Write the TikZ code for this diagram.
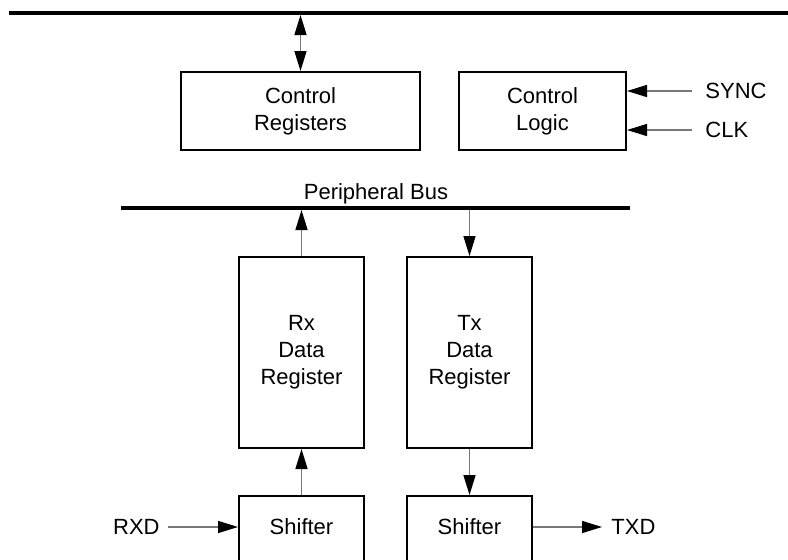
\documentclass[tikz,border=0pt]{standalone}
\usepackage{fontspec}
\setmainfont{Liberation Sans}
\usetikzlibrary{arrows.meta}
\definecolor{conn}{RGB}{120,120,120}
\begin{document}
\begin{tikzpicture}[x=0.5pt,y=-0.5pt,
  txt/.style={font=\fontsize{11pt}{13.5pt}\selectfont},
  box/.style={draw=black,line width=1pt,inner sep=0pt,align=center,txt},
  lbl/.style={inner sep=0pt,txt},
  bus/.style={line width=2pt,black},
  arr/.style={draw=conn,line width=0.7pt,-{Triangle[length=10pt,width=6pt,color=black]}},
  darr/.style={draw=conn,line width=0.7pt,{Triangle[length=10pt,width=6pt,color=black]}-{Triangle[length=10pt,width=6pt,color=black]}}
]
\useasboundingbox (0,0) rectangle (788,559);
\clip (0,0) rectangle (788,559);
% buses
\coordinate (tb1) at (9,13);
\coordinate (tb2) at (800,13);
\coordinate (tbe) at (0,15);
\coordinate (pb1) at (121,208);
\coordinate (pb2) at (630,208);
\coordinate (pbe) at (0,210);
\draw[bus] (tb1) -- (tb2);
\draw[bus] (pb1) -- (pb2);
\node[lbl,anchor=base] (pbl) at (376,199) {Peripheral Bus};
% boxes
\node[box,minimum width=119.5pt,minimum height=39pt] (creg) at (300.5,111) {Control\\Registers};
\node[box,minimum width=83.5pt,minimum height=39pt] (clog) at (542.5,111) {Control\\Logic};
\node[box,minimum width=62.5pt,minimum height=95.5pt] (rx) at (301.5,352.5) {Rx\\Data\\Register};
\node[box,minimum width=62.5pt,minimum height=95.5pt] (tx) at (469.5,352.5) {Tx\\Data\\Register};
\node[box,minimum width=62.5pt,minimum height=40pt,anchor=north] (shl) at (301.5,495) {};
\node[box,minimum width=62.5pt,minimum height=40pt,anchor=north] (shr) at (469.5,495) {};
\node[lbl] (shlt) at (301.5,527) {Shifter};
\node[lbl] (shrt) at (469.5,527) {Shifter};
% labels
\node[lbl,anchor=west] (sync) at (705,91) {SYNC};
\node[lbl,anchor=west] (clk) at (705,130) {CLK};
\node[lbl,anchor=east] (rxd) at (160,527) {RXD};
\node[lbl,anchor=west] (txd) at (611,527) {TXD};
% connectors
\draw[darr] (creg.north |- tbe) -- (creg.north);
\draw[arr] ([xshift=-6.5pt]sync.west) -- (clog.east |- sync);
\draw[arr] ([xshift=-6.5pt]clk.west) -- (clog.east |- clk);
\draw[arr] (rx.north) -- (rx.north |- pbe);
\draw[arr] (tx.north |- pbe) -- (tx.north);
\draw[arr] (shl.north) -- (rx.south);
\draw[arr] (tx.south) -- (shr.north);
\draw[arr] ([xshift=4pt]rxd.east) -- (shl.west |- rxd);
\draw[arr] (shr.east |- txd) -- ([xshift=-4.5pt]txd.west);
\end{tikzpicture}
\end{document}
